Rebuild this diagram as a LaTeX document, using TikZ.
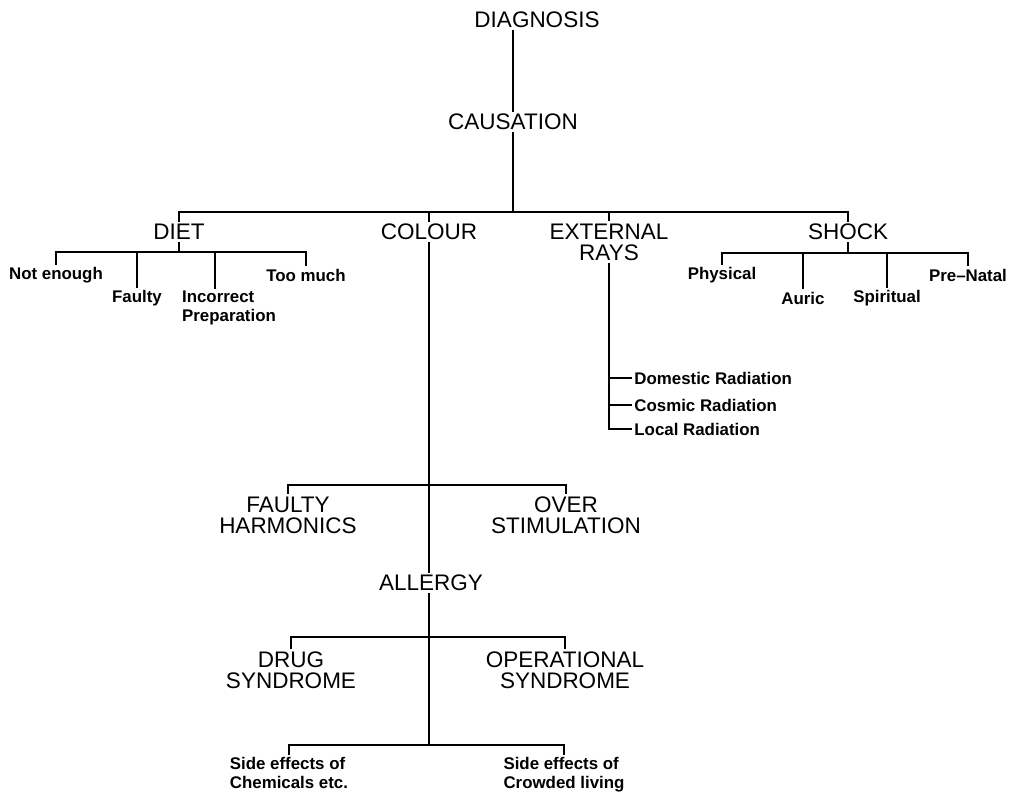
\documentclass[tikz,border=0pt]{standalone}
\usepackage{fontspec}
\setmainfont{Liberation Sans}
\tikzstyle{head}=[font=\fontsize{16}{15}\selectfont, align=center, inner sep=1.5pt]
\tikzstyle{leaf}=[font=\fontsize{12}{13.5}\selectfont\bfseries, align=center, inner sep=1.5pt]
\tikzstyle{edge}=[line width=1pt]

\begin{document}
\begin{tikzpicture}[x=0.025cm, y=-0.025cm]
            \useasboundingbox (0,0) rectangle (1014,791);
            \node[head] (diagnosis) at (537,20) {DIAGNOSIS};
            \node[head] (causation) at (513,122) {CAUSATION};
            \node[head] (diet) at (179,232) {DIET};
            \node[head] (colour) at (429,232) {COLOUR};
            \node[head] (rays) at (609,242) {EXTERNAL\\RAYS};
            \node[head] (shock) at (848,232) {SHOCK};
            \node[leaf] (notenough) at (56,275) {Not enough};
            \node[leaf] (faulty) at (137,298) {Faulty};
            \node[leaf, align=left] (incorrect) at (229,308) {Incorrect\\Preparation};
            \node[leaf] (toomuch) at (306,275) {Too much};
            \node[leaf] (physical) at (722,275) {Physical};
            \node[leaf] (auric) at (803,298) {Auric};
            \node[leaf] (spiritual) at (887,298) {Spiritual};
            \node[leaf] (prenatal) at (968,275) {Pre--Natal};
            \node[leaf, anchor=west] (domestic) at (632,378) {Domestic Radiation};
            \node[leaf, anchor=west] (cosmic) at (632,405) {Cosmic Radiation};
            \node[leaf, anchor=west] (local) at (632,429) {Local Radiation};
            \node[head] (faultyh) at (288,515) {FAULTY\\HARMONICS};
            \node[head] (over) at (566,515) {OVER\\STIMULATION};
            \node[head] (allergy) at (431,583) {ALLERGY};
            \node[head] (drug) at (291,670) {DRUG\\SYNDROME};
            \node[head] (operational) at (565,670) {OPERATIONAL\\SYNDROME};
            \node[leaf, align=left, anchor=north] (chemicals) at (289,755) {Side effects of\\Chemicals etc.};
            \node[leaf, align=left, anchor=north] (crowded) at (564,755) {Side effects of\\Crowded living};
            \coordinate (mainbar) at (513,212);
            \coordinate (dietbar) at (179,252);
            \coordinate (shockbar) at (848,253);
            \coordinate (harmbar) at (429,485);
            \coordinate (drugbar) at (429,637);
            \coordinate (sidebar) at (429,745);
            \draw[edge] (causation.north) -- (causation.north |- diagnosis.south);
            \draw[edge] (causation.south) -- (causation.south |- mainbar);
            \draw[edge] (diet.north) -- (diet.north |- mainbar) -| (shock.north);
            \draw[edge] (colour.north) -- (colour.north |- mainbar);
            \draw[edge] (rays.north) -- (rays.north |- mainbar);
            \draw[edge] (diet.south) -- (dietbar);
            \draw[edge] (notenough.north) -- (notenough.north |- dietbar) -| (toomuch.north);
            \draw[edge] (faulty.north) -- (faulty.north |- dietbar);
            \draw[edge] ([xshift=-10]incorrect.north) -- ([xshift=-10]incorrect.north |- dietbar);
            \draw[edge] (shock.south) -- (shockbar);
            \draw[edge] (physical.north) -- (physical.north |- shockbar) -| (prenatal.north);
            \draw[edge] (auric.north) -- (auric.north |- shockbar);
            \draw[edge] (spiritual.north) -- (spiritual.north |- shockbar);
            \draw[edge] (rays.south) |- (local.west);
            \draw[edge] (rays.south |- domestic.west) -- (domestic.west);
            \draw[edge] (rays.south |- cosmic.west) -- (cosmic.west);
            \draw[edge] (colour.south) -- (colour.south |- allergy.north);
            \draw[edge] (faultyh.north) -- (faultyh.north |- harmbar) -| (over.north);
            \draw[edge] (colour.south |- allergy.south) -- (sidebar);
            \draw[edge] (drug.north) -- (drug.north |- drugbar) -| (operational.north);
            \draw[edge] (chemicals.north) -- (chemicals.north |- sidebar) -| (crowded.north);
	    \end{tikzpicture}
\end{document}
